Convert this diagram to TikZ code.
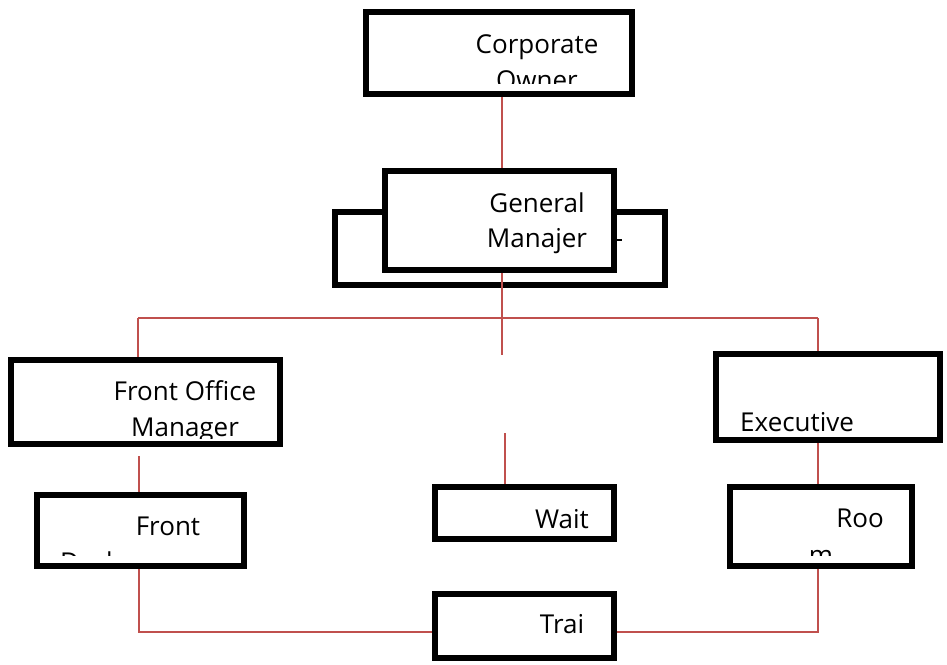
\documentclass[tikz,border=0pt]{standalone}
\usepackage{fontspec}
\setmainfont{Open Sans}
\definecolor{linkred}{RGB}{192,80,77}
\begin{document}
\begin{tikzpicture}[x=1pt,y=-1pt,
  box/.style={draw=black, line width=5.5pt, fill=white, inner sep=0pt},
  conn/.style={draw=linkred, line width=1.8pt},
  lbl/.style={font={\fontsize{26}{35}\selectfont}, inner sep=0pt, anchor=base, text=black}]
\useasboundingbox (0,0) rectangle (947,664);

% junction coordinates
\coordinate (jL) at (138,318);
\coordinate (jM) at (502,318);
\coordinate (jR) at (818,318);
\coordinate (mEnd) at (502,355);
\coordinate (wStart) at (505,433);
\coordinate (fomEnd) at (139,456);
\coordinate (bl) at (139,632);
\coordinate (br) at (818,632);

% boxes (shape only)
\node[box, minimum width=266pt, minimum height=82pt] (CO) at (499,53) {};
\node[box, minimum width=330pt, minimum height=73pt] (BK) at (500,248.5) {};
\node[box, minimum width=229pt, minimum height=99pt] (GM) at (499.5,220.5) {};
\node[box, minimum width=269pt, minimum height=84pt] (FOM) at (145.5,402) {};
\node[box, minimum width=224pt, minimum height=86pt] (EX) at (828,397) {};
\node[box, minimum width=207pt, minimum height=71pt] (FD) at (140.5,530.5) {};
\node[box, minimum width=179pt, minimum height=52pt] (WT) at (524.5,513) {};
\node[box, minimum width=182pt, minimum height=79pt] (RM) at (821,526.5) {};
\node[box, minimum width=179pt, minimum height=64pt] (TR) at (524.5,626) {};

% connectors
\draw[conn] (jM |- CO.south) -- (jM |- GM.north);
\draw[conn] (jM |- GM.south) -- (mEnd);
\draw[conn] (jL) -- (jR);
\draw[conn] (jL) -- (jL |- FOM.north);
\draw[conn] (jR) -- (jR |- EX.north);
\draw[conn] (wStart) -- (wStart |- WT.north);
\draw[conn] (fomEnd) -- (fomEnd |- FD.north);
\draw[conn] (jR |- EX.south) -- (jR |- RM.north);
\draw[conn] (bl |- FD.south) -- (bl) -- (TR.west |- bl);
\draw[conn] (br |- RM.south) -- (br) -- (TR.east |- br);

% texts
\begin{scope}
  \clip (369,15) rectangle (629,83);
  \node[lbl] (tCO1) at (537,53) {Corporate};
  \node[lbl] (tCO2) at (537,89) {Owner};
\end{scope}
\node[lbl] (tGM1) at (537,212) {General};
\node[lbl] (tGM2) at (537,247) {Manajer};
\draw[line width=1.2pt] (617,240) -- (622,240);
\begin{scope}
  \clip (14,363) rectangle (277,438);
  \node[lbl] (tFO1) at (185,400) {Front Office};
  \node[lbl] (tFO2) at (185,436) {Manager};
\end{scope}
\node[lbl, anchor=base west] (tEX) at (740,431) {Executive};
\begin{scope}
  \clip (40,498) rectangle (241,555);
  \node[lbl] (tFD1) at (168,535) {Front};
  \node[lbl, anchor=base west] (tFD2) at (60,571) {Desk};
\end{scope}
\begin{scope}
  \clip (733,490) rectangle (909,555);
  \node[lbl] (tRM1) at (860,527) {Roo};
  \node[lbl] (tRM2) at (821,564) {m};
\end{scope}
\node[lbl] (tWT) at (562,528) {Wait};
\node[lbl] (tTR) at (562,633) {Trai};
\end{tikzpicture}
\end{document}
